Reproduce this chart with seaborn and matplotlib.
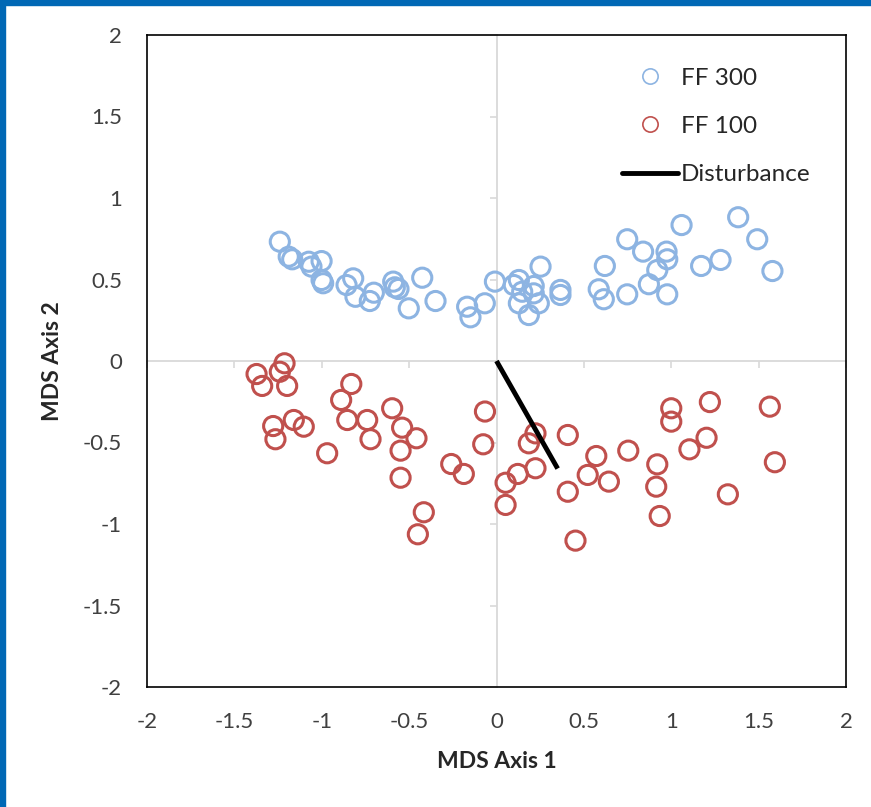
import numpy as np
import pandas as pd
import matplotlib
matplotlib.use('Agg')
import matplotlib.pyplot as plt
from matplotlib.patches import Rectangle
from matplotlib.lines import Line2D
import seaborn as sns

# MDS ordination scores
ff300_x = [-1.240, -1.189, -1.169, -1.074, -1.059, -1.001, -1.001, -0.992, -0.858, -0.820,
           -0.807, -0.725, -0.702, -0.591, -0.582, -0.561, -0.502, -0.425, -0.349, -0.168,
           -0.149, -0.067, -0.009, 0.099, 0.128, 0.147, 0.128, 0.213, 0.213, 0.242,
           0.185, 0.252, 0.366, 0.366, 0.585, 0.614, 0.620, 0.748, 0.748, 0.839,
           0.872, 0.920, 0.973, 0.977, 0.977, 1.059, 1.171, 1.282, 1.383, 1.492, 1.579]
ff300_y = [0.732, 0.640, 0.624, 0.609, 0.579, 0.613, 0.497, 0.477, 0.466, 0.507,
           0.394, 0.368, 0.419, 0.487, 0.452, 0.442, 0.323, 0.511, 0.368, 0.333,
           0.268, 0.354, 0.487, 0.466, 0.497, 0.425, 0.354, 0.460, 0.415, 0.354,
           0.282, 0.579, 0.436, 0.405, 0.440, 0.379, 0.583, 0.747, 0.409, 0.671,
           0.471, 0.558, 0.671, 0.624, 0.409, 0.834, 0.583, 0.620, 0.882, 0.747, 0.552]

ff100_x = [-1.373, -1.341, -1.240, -1.213, -1.198, -1.278, -1.265, -1.160, -1.103, -0.969,
           -0.831, -0.889, -0.854, -0.740, -0.721, -0.597, -0.540, -0.458, -0.549, -0.549,
           -0.416, -0.450, -0.259, -0.187, -0.066, -0.076, 0.052, 0.052, 0.122, 0.185,
           0.223, 0.223, 0.408, 0.408, 0.452, 0.522, 0.571, 0.643, 0.754, 0.920,
           0.914, 0.934, 1.000, 1.000, 1.104, 1.202, 1.221, 1.324, 1.564, 1.593]
ff100_y = [-0.080, -0.153, -0.066, -0.014, -0.153, -0.399, -0.480, -0.362, -0.403, -0.566,
           -0.141, -0.239, -0.362, -0.362, -0.480, -0.290, -0.409, -0.474, -0.550, -0.716,
           -0.928, -1.063, -0.632, -0.693, -0.310, -0.511, -0.747, -0.883, -0.693, -0.505,
           -0.444, -0.658, -0.454, -0.802, -1.102, -0.699, -0.583, -0.740, -0.550, -0.634,
           -0.771, -0.951, -0.290, -0.372, -0.542, -0.471, -0.252, -0.818, -0.280, -0.621]

dist_x = [0.0, 0.35]
dist_y = [0.0, -0.66]

ticks = [-2, -1.5, -1, -0.5, 0, 0.5, 1, 1.5, 2]
tick_labels = ['-2', '-1.5', '-1', '-0.5', '0', '0.5', '1', '1.5', '2']

df = pd.DataFrame({
    'x': ff300_x + ff100_x,
    'y': ff300_y + ff100_y,
    'group': ['FF 300'] * len(ff300_x) + ['FF 100'] * len(ff100_x),
})

sns.set_style('white')
plt.rcParams['font.family'] = ['Lato', 'DejaVu Sans']

fig = plt.figure(figsize=(8.71, 8.07), dpi=100)
pos = [147 / 871, 1 - 687 / 807, (846 - 147) / 871, (687 - 35) / 807]
ax = fig.add_axes(pos)

# zero axes (grey, with outward ticks)
for side in ['top', 'right']:
    ax.spines[side].set_visible(False)
for side in ['left', 'bottom']:
    ax.spines[side].set_position('zero')
    ax.spines[side].set_color('#d9d9d9')
    ax.spines[side].set_linewidth(1.3)
ax.tick_params(direction='out', length=5, width=1.2, color='#d9d9d9',
               labelleft=False, labelbottom=False, left=True, bottom=True)

sns.scatterplot(data=df, x='x', y='y', hue='group', hue_order=['FF 300', 'FF 100'],
                palette={'FF 300': '#8db4e2', 'FF 100': '#c0504d'},
                s=190, marker='o', linewidth=2.2, ax=ax,
                legend=False, zorder=3)
# hollow markers
coll = ax.collections[0]
coll.set_edgecolors(coll.get_facecolors())
coll.set_facecolors('none')

ax.plot(dist_x, dist_y, color='black', lw=3.5, solid_capstyle='butt', zorder=4)

ax.set_xlim(-2, 2)
ax.set_ylim(-2, 2)
ax.set_xticks(ticks)
ax.set_yticks(ticks)
ax.set_xlabel('')
ax.set_ylabel('')

# legend
handles = [
    Line2D([], [], ls='none', marker='o', markersize=11, markerfacecolor='none',
           markeredgecolor='#8db4e2', markeredgewidth=1.2),
    Line2D([], [], ls='none', marker='o', markersize=11, markerfacecolor='none',
           markeredgecolor='#c0504d', markeredgewidth=1.2),
    Line2D([], [], color='black', lw=3.5),
]
ax.legend(handles, ['FF 300', 'FF 100', 'Disturbance'], frameon=False,
          loc='upper left', bbox_to_anchor=(0.666, 0.965), borderaxespad=0,
          fontsize=17.5, handlelength=2.3, handletextpad=0.12, labelspacing=1.12,
          labelcolor='#262626')

# outer frame with tick labels
ax2 = fig.add_axes(pos, facecolor='none')
ax2.set_xlim(-2, 2)
ax2.set_ylim(-2, 2)
ax2.set_xticks(ticks)
ax2.set_xticklabels(tick_labels)
ax2.set_yticks(ticks)
ax2.set_yticklabels(tick_labels)
for side in ax2.spines.values():
    side.set_visible(True)
    side.set_color('black')
    side.set_linewidth(1.2)
ax2.tick_params(length=0, pad=18, labelsize=16, labelcolor='#404040')
ax2.set_xlabel('MDS Axis 1', fontsize=16.5, fontweight='bold', labelpad=14, color='#262626')
ax2.set_ylabel('MDS Axis 2', fontsize=16.5, fontweight='bold', labelpad=14, color='#262626')

# blue border strips
fig.patches.append(Rectangle((0, 1 - 5 / 807), 1, 5 / 807, transform=fig.transFigure,
                             color='#0068b5', zorder=10))
fig.patches.append(Rectangle((0, 0), 5 / 871, 1, transform=fig.transFigure,
                             color='#0068b5', zorder=10))

fig.savefig('out.png', dpi=100)
